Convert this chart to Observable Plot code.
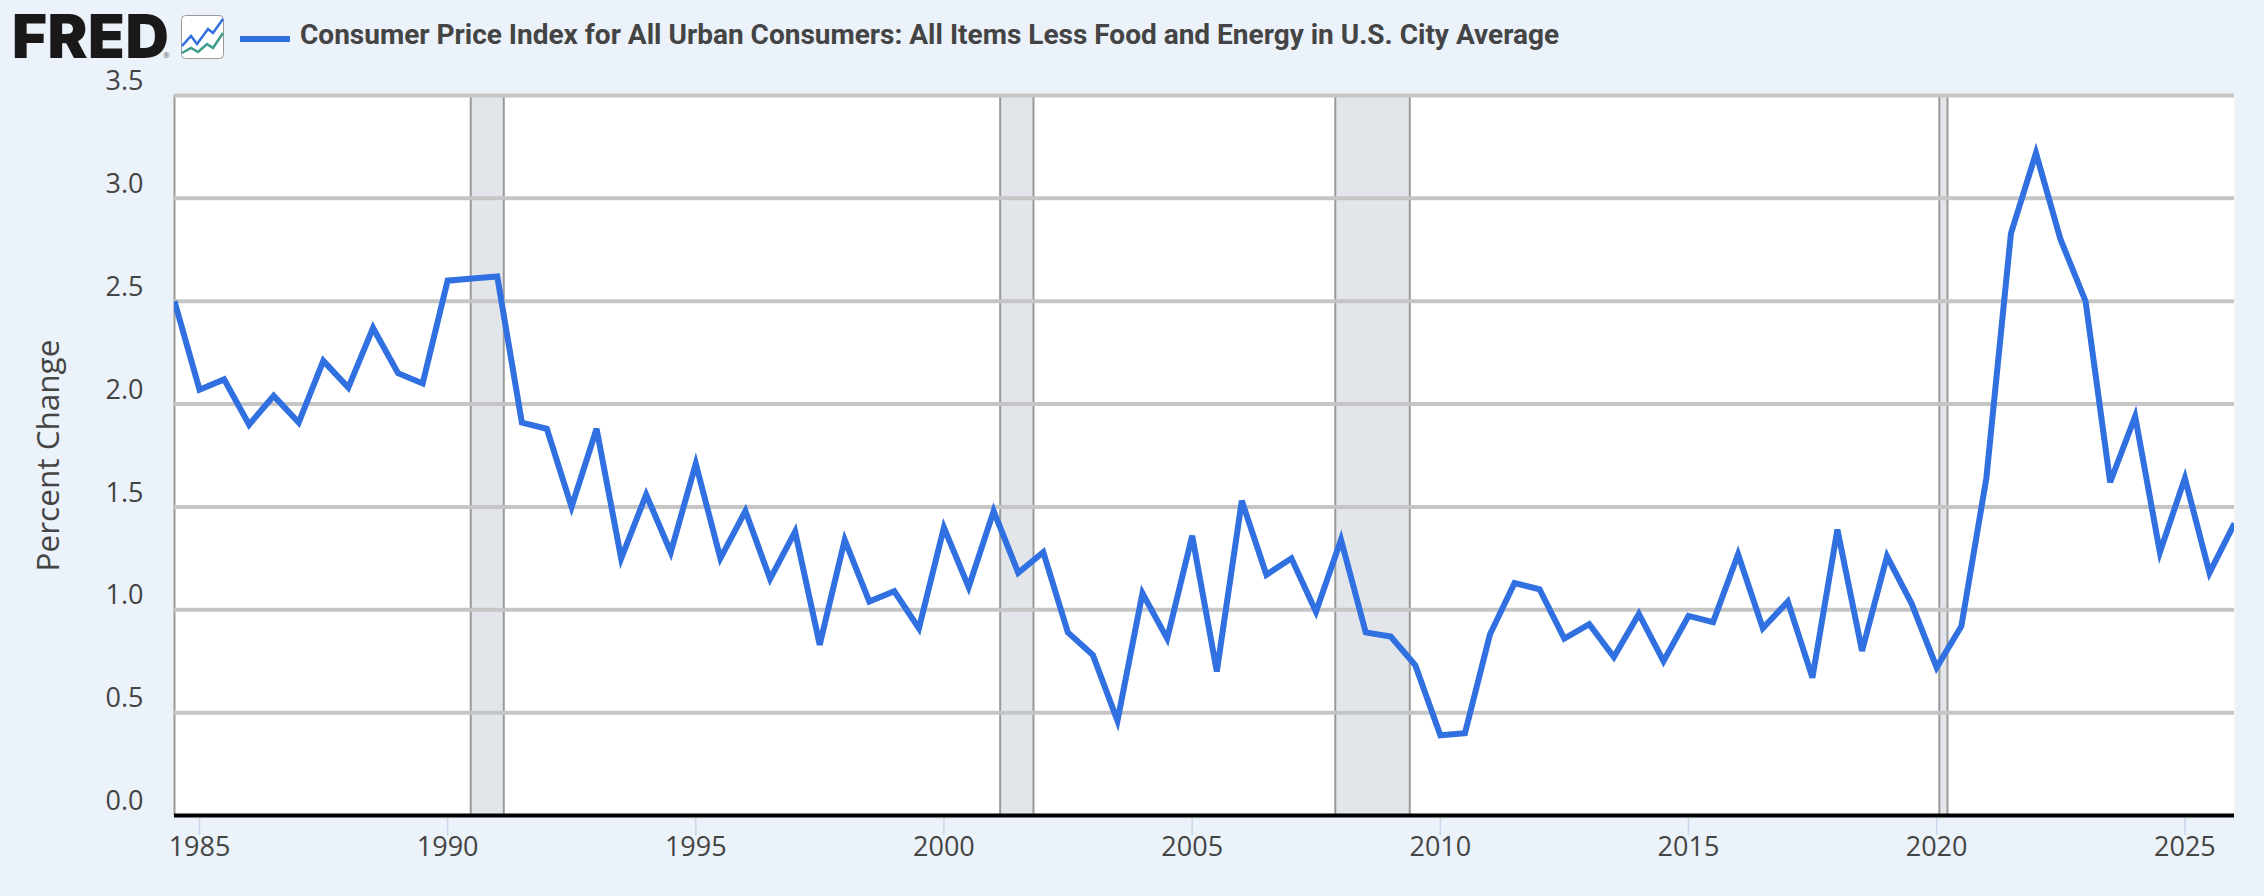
<!DOCTYPE html>
<html>
<head>
<meta charset="utf-8">
<script src="https://cdn.jsdelivr.net/npm/d3@7"></script>
<script src="https://cdn.jsdelivr.net/npm/@observablehq/plot@0.6"></script>
<style>
html,body{margin:0;padding:0;background:#ebf2fa;overflow:hidden;width:2264px;height:896px}
#hdr{position:relative;height:60px;width:2264px}
#logo{position:absolute;left:12px;top:14px;font:900 60px/44px Inter,sans-serif;letter-spacing:0.5px;color:#1a1818}
#reg{position:absolute;left:163px;top:50px;font:400 8px/10px "Open Sans",sans-serif;color:#666}
#icon{position:absolute;left:181px;top:15px}
#swatch{position:absolute;left:240px;top:36px;width:50px;height:6px;background:#3070e0}
#title{position:absolute;left:300px;top:18px;font:700 28px/34px Roboto,sans-serif;color:#444;white-space:nowrap}
svg.chart{display:block}
</style>
</head>
<body>
<div id="hdr">
  <div id="logo">FRED</div><div id="reg">®</div>
  <svg id="icon" width="44" height="44" viewBox="0 0 44 44">
    <rect x="0.5" y="0.5" width="42" height="43" rx="4" fill="#fff" stroke="#999"/>
    <polyline points="1,31 10,21 16,29 27,14 32,18 42,4" fill="none" stroke="#2f6fe0" stroke-width="2.5"/>
    <polyline points="1,38 10,33 17,37 26,29 32,33 42,18" fill="none" stroke="#3e9c8c" stroke-width="2.5"/>
  </svg>
  <div id="swatch"></div>
  <div id="title">Consumer Price Index for All Urban Consumers: All Items Less Food and Energy in U.S. City Average</div>
</div>
<div id="chart"></div>
<script>
const periods = d3.utcMonths(new Date("1984-07-01"), new Date("2026-02-01"), 6);
const values = [
  2.50,2.07,2.12,1.90,2.04,1.91,2.21,2.08,2.37,2.15,2.10,2.60,2.61,2.62,1.91,1.88,
  1.50,1.88,1.25,1.56,1.28,1.71,1.25,1.48,1.15,1.38,0.83,1.34,1.04,1.09,0.91,1.40,
  1.11,1.48,1.18,1.28,0.89,0.78,0.46,1.08,0.86,1.36,0.70,1.53,1.17,1.25,0.99,1.34,
  0.89,0.87,0.73,0.39,0.40,0.88,1.13,1.10,0.86,0.93,0.77,0.98,0.75,0.97,0.94,1.27,
  0.91,1.04,0.67,1.39,0.80,1.26,1.03,0.72,0.92,1.64,2.83,3.22,2.80,2.50,1.62,1.94,
  1.28,1.64,1.18,1.42
];
const recessionStarts = ["1990-07-01","2001-03-01","2007-12-01","2020-02-01"];
const recessionEnds   = ["1991-03-01","2001-11-01","2009-06-01","2020-04-01"];
const yTicks = [0,0.5,1,1.5,2,2.5,3,3.5];
const xTicks = [1985,1990,1995,2000,2005,2010,2015,2020,2025];

const series = periods.map((date,i)=>({date,value:values[i]}));
const recessions = recessionStarts.map((s,i)=>({start:new Date(s),end:new Date(recessionEnds[i])}));
const xDomain = [new Date("1984-07-01"), new Date("2026-01-01")];

const textFont = '"Open Sans", sans-serif';
const plot = Plot.plot({
  width:2264, height:836,
  marginTop:35, marginBottom:81, marginLeft:174, marginRight:30,
  style:{background:"transparent", fontFamily:textFont, overflow:"visible"},
  x:{type:"utc", domain:xDomain},
  y:{domain:[0,3.5]},
  marks:[
    Plot.frame({fill:"#fff", stroke:"none"}),
    Plot.rectY(recessions,{x1:"start",x2:"end",y1:0,y2:3.5,fill:"#e2e6eb",dx:-1.5}),
    Plot.ruleX(recessions,{x:"start",stroke:"#999",strokeWidth:2,dx:-1.5}),
    Plot.ruleX(recessions,{x:"end",stroke:"#999",strokeWidth:2,dx:-1.5}),
    Plot.ruleX([xDomain[0]],{stroke:"#999",strokeWidth:2}),
    Plot.ruleY(yTicks.filter(d=>d>0),{stroke:"#c5c5c5",strokeWidth:4}),
    Plot.line(series,{x:"date",y:"value",stroke:"#3070e0",strokeWidth:6,
      strokeLinejoin:"miter",strokeMiterlimit:4,strokeLinecap:"butt",clip:"frame"}),
    Plot.axisX(xTicks.map(y=>new Date(Date.UTC(y,0,1))),{
      tickSize:20,tickPadding:1,stroke:"#ccd6eb",strokeWidth:1.5,fill:"#444",
      tickFormat:d=>String(d.getUTCFullYear()),fontSize:27,label:null}),
    Plot.ruleY([0],{stroke:"#000",strokeWidth:4}),
    Plot.axisY(yTicks,{tickSize:0,tickPadding:31,dy:-14,fill:"#444",
      tickFormat:d=>d.toFixed(1),fontSize:27,label:null}),
    Plot.text(["Percent Change"],{frameAnchor:"left",rotate:-90,dx:-126,fontSize:31.5,fill:"#444",textAnchor:"middle"})
  ]
});
plot.classList.add("chart");
document.getElementById("chart").appendChild(plot);
</script>
</body>
</html>
